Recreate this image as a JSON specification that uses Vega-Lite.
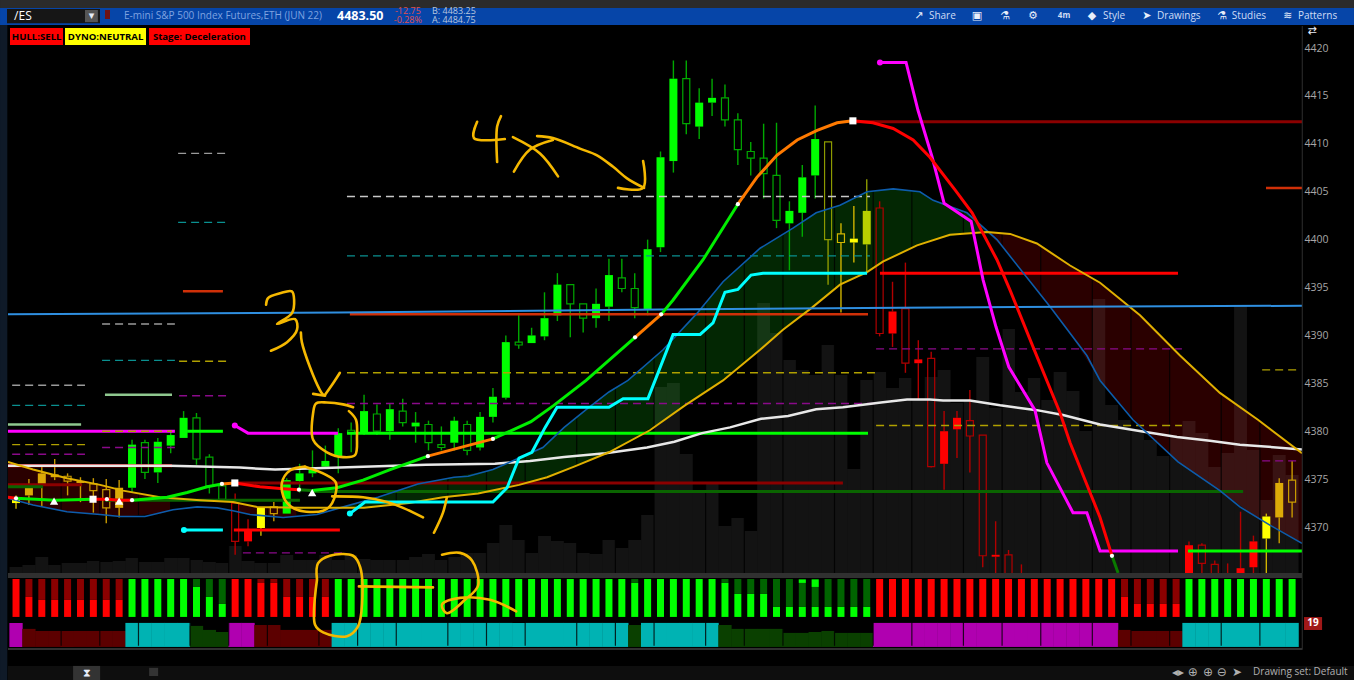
{"$schema":"https://vega.github.io/schema/vega-lite/v6.json","width":1294,"height":547,"autosize":{"type":"none"},"padding":{"left":8,"top":26,"right":52,"bottom":107},"background":"#000000","config":{"view":{"stroke":null},"font":"Open Sans","axis":{"grid":false}},
"datasets":{
"candles":[
{"t":276,"top":4372.9,"bot":4372.5,"hi":4373.3,"lo":4371.9,"tone":"pale","body":"filled"},
{"t":280,"top":4374.2,"bot":4373.3,"hi":4375.0,"lo":4372.3,"tone":"fade","body":"filled"},
{"t":284,"top":4375.6,"bot":4374.5,"hi":4376.3,"lo":4372.1,"tone":"fade","body":"filled"},
{"t":288,"top":4375.5,"bot":4375.2,"hi":4377.1,"lo":4374.9,"tone":"fade","body":"filled"},
{"t":292,"top":4375.3,"bot":4374.8,"hi":4375.6,"lo":4373.3,"tone":"fade","body":"hollow"},
{"t":296,"top":4374.8,"bot":4374.6,"hi":4375.2,"lo":4372.6,"tone":"fade","body":"filled"},
{"t":300,"top":4374.5,"bot":4373.8,"hi":4375.1,"lo":4371.5,"tone":"fade","body":"hollow"},
{"t":304,"top":4373.9,"bot":4372.0,"hi":4375.0,"lo":4370.4,"tone":"fade","body":"hollow"},
{"t":308,"top":4374.1,"bot":4372.0,"hi":4374.9,"lo":4371.0,"tone":"fade","body":"filled"},
{"t":312,"top":4378.6,"bot":4374.1,"hi":4379.1,"lo":4373.6,"tone":"up","body":"filled"},
{"t":316,"top":4378.8,"bot":4375.7,"hi":4379.1,"lo":4375.0,"tone":"up","body":"hollow"},
{"t":320,"top":4378.9,"bot":4375.7,"hi":4379.3,"lo":4374.6,"tone":"up","body":"filled"},
{"t":324,"top":4379.6,"bot":4378.5,"hi":4380.1,"lo":4377.7,"tone":"up","body":"filled"},
{"t":328,"top":4381.4,"bot":4379.3,"hi":4382.1,"lo":4379.3,"tone":"up","body":"filled"},
{"t":332,"top":4381.4,"bot":4377.1,"hi":4381.9,"lo":4376.5,"tone":"up","body":"hollow"},
{"t":336,"top":4377.3,"bot":4374.3,"hi":4377.6,"lo":4373.5,"tone":"up","body":"hollow"},
{"t":340,"top":4374.3,"bot":4372.9,"hi":4374.5,"lo":4372.8,"tone":"up","body":"hollow"},
{"t":344,"top":4372.5,"bot":4368.5,"hi":4373.5,"lo":4367.1,"tone":"down","body":"hollow"},
{"t":348,"top":4369.7,"bot":4368.5,"hi":4370.8,"lo":4368.0,"tone":"down","body":"filled"},
{"t":352,"top":4372.1,"bot":4369.9,"hi":4372.1,"lo":4369.1,"tone":"pale","body":"filled"},
{"t":356,"top":4372.1,"bot":4371.4,"hi":4372.6,"lo":4370.6,"tone":"fade","body":"hollow"},
{"t":360,"top":4374.9,"bot":4371.4,"hi":4375.1,"lo":4371.4,"tone":"up","body":"filled"},
{"t":364,"top":4375.6,"bot":4374.8,"hi":4376.6,"lo":4373.6,"tone":"up","body":"filled"},
{"t":368,"top":4376.0,"bot":4375.6,"hi":4378.0,"lo":4375.2,"tone":"up","body":"filled"},
{"t":372,"top":4376.9,"bot":4376.3,"hi":4378.5,"lo":4376.2,"tone":"up","body":"filled"},
{"t":376,"top":4379.8,"bot":4377.3,"hi":4380.3,"lo":4375.6,"tone":"up","body":"filled"},
{"t":380,"top":4380.1,"bot":4379.8,"hi":4380.9,"lo":4377.8,"tone":"up","body":"hollow"},
{"t":384,"top":4382.1,"bot":4379.8,"hi":4383.8,"lo":4379.6,"tone":"up","body":"filled"},
{"t":388,"top":4381.8,"bot":4380.0,"hi":4382.8,"lo":4379.6,"tone":"up","body":"hollow"},
{"t":392,"top":4382.3,"bot":4380.0,"hi":4382.9,"lo":4379.1,"tone":"up","body":"filled"},
{"t":396,"top":4382.1,"bot":4380.9,"hi":4383.4,"lo":4380.5,"tone":"up","body":"hollow"},
{"t":400,"top":4380.9,"bot":4380.5,"hi":4382.0,"lo":4378.8,"tone":"up","body":"filled"},
{"t":404,"top":4380.7,"bot":4378.8,"hi":4381.1,"lo":4378.0,"tone":"up","body":"hollow"},
{"t":408,"top":4378.6,"bot":4378.3,"hi":4380.5,"lo":4378.0,"tone":"up","body":"hollow"},
{"t":412,"top":4381.1,"bot":4378.8,"hi":4381.5,"lo":4378.0,"tone":"up","body":"filled"},
{"t":416,"top":4380.7,"bot":4378.0,"hi":4381.1,"lo":4377.5,"tone":"up","body":"hollow"},
{"t":420,"top":4381.5,"bot":4378.3,"hi":4382.0,"lo":4378.0,"tone":"up","body":"filled"},
{"t":424,"top":4383.6,"bot":4381.5,"hi":4384.5,"lo":4380.9,"tone":"up","body":"filled"},
{"t":428,"top":4389.3,"bot":4383.5,"hi":4390.0,"lo":4383.3,"tone":"up","body":"filled"},
{"t":432,"top":4389.3,"bot":4389.0,"hi":4392.1,"lo":4388.6,"tone":"up","body":"hollow"},
{"t":436,"top":4390.0,"bot":4389.2,"hi":4390.8,"lo":4389.2,"tone":"up","body":"filled"},
{"t":440,"top":4391.8,"bot":4389.9,"hi":4394.5,"lo":4389.5,"tone":"up","body":"filled"},
{"t":444,"top":4395.3,"bot":4392.1,"hi":4396.5,"lo":4391.5,"tone":"up","body":"filled"},
{"t":448,"top":4395.3,"bot":4393.3,"hi":4395.3,"lo":4389.8,"tone":"up","body":"hollow"},
{"t":452,"top":4393.3,"bot":4391.8,"hi":4393.3,"lo":4390.3,"tone":"up","body":"hollow"},
{"t":456,"top":4393.3,"bot":4391.8,"hi":4394.9,"lo":4390.8,"tone":"up","body":"filled"},
{"t":460,"top":4396.3,"bot":4393.0,"hi":4398.0,"lo":4391.5,"tone":"up","body":"filled"},
{"t":464,"top":4396.0,"bot":4394.9,"hi":4398.0,"lo":4394.5,"tone":"up","body":"hollow"},
{"t":468,"top":4394.9,"bot":4392.9,"hi":4396.5,"lo":4391.8,"tone":"up","body":"hollow"},
{"t":472,"top":4399.0,"bot":4392.7,"hi":4400.0,"lo":4392.1,"tone":"up","body":"filled"},
{"t":476,"top":4408.6,"bot":4399.2,"hi":4409.2,"lo":4398.7,"tone":"up","body":"filled"},
{"t":480,"top":4416.8,"bot":4408.2,"hi":4418.7,"lo":4407.0,"tone":"up","body":"filled"},
{"t":484,"top":4416.8,"bot":4412.1,"hi":4418.7,"lo":4411.0,"tone":"up","body":"hollow"},
{"t":488,"top":4414.3,"bot":4411.8,"hi":4415.8,"lo":4410.5,"tone":"up","body":"filled"},
{"t":492,"top":4414.8,"bot":4414.3,"hi":4416.8,"lo":4412.9,"tone":"up","body":"filled"},
{"t":496,"top":4414.8,"bot":4412.5,"hi":4416.2,"lo":4411.8,"tone":"up","body":"hollow"},
{"t":500,"top":4412.5,"bot":4409.4,"hi":4413.2,"lo":4407.8,"tone":"up","body":"hollow"},
{"t":504,"top":4409.2,"bot":4408.5,"hi":4410.2,"lo":4406.7,"tone":"up","body":"hollow"},
{"t":508,"top":4408.5,"bot":4406.9,"hi":4412.1,"lo":4404.3,"tone":"up","body":"hollow"},
{"t":512,"top":4406.7,"bot":4402.0,"hi":4412.2,"lo":4401.2,"tone":"up","body":"hollow"},
{"t":516,"top":4403.0,"bot":4401.7,"hi":4404.0,"lo":4396.8,"tone":"up","body":"filled"},
{"t":520,"top":4406.5,"bot":4402.8,"hi":4407.8,"lo":4400.3,"tone":"up","body":"filled"},
{"t":524,"top":4410.5,"bot":4406.7,"hi":4414.0,"lo":4404.3,"tone":"up","body":"filled"},
{"t":528,"top":4410.2,"bot":4400.0,"hi":4410.2,"lo":4395.3,"tone":"olive","body":"hollow"},
{"t":532,"top":4400.6,"bot":4399.7,"hi":4401.7,"lo":4392.4,"tone":"pale","body":"hollow"},
{"t":536,"top":4400.1,"bot":4399.7,"hi":4403.5,"lo":4397.6,"tone":"pale","body":"filled"},
{"t":540,"top":4403.0,"bot":4399.5,"hi":4406.3,"lo":4396.5,"tone":"olive","body":"filled"},
{"t":544,"top":4403.3,"bot":4390.2,"hi":4404.0,"lo":4389.9,"tone":"down","body":"hollow"},
{"t":548,"top":4392.5,"bot":4390.2,"hi":4395.6,"lo":4388.8,"tone":"down","body":"filled"},
{"t":552,"top":4392.8,"bot":4387.1,"hi":4397.6,"lo":4386.1,"tone":"down","body":"hollow"},
{"t":556,"top":4387.5,"bot":4387.1,"hi":4389.5,"lo":4383.3,"tone":"down","body":"filled"},
{"t":560,"top":4387.6,"bot":4376.3,"hi":4388.3,"lo":4376.2,"tone":"down","body":"hollow"},
{"t":564,"top":4380.0,"bot":4376.6,"hi":4382.1,"lo":4373.9,"tone":"down","body":"filled"},
{"t":568,"top":4381.4,"bot":4380.2,"hi":4382.1,"lo":4377.2,"tone":"down","body":"filled"},
{"t":572,"top":4381.1,"bot":4379.5,"hi":4384.3,"lo":4375.7,"tone":"down","body":"hollow"},
{"t":576,"top":4379.6,"bot":4367.0,"hi":4379.6,"lo":4365.8,"tone":"down","body":"hollow"},
{"t":580,"top":4367.1,"bot":4366.9,"hi":4370.6,"lo":4362.4,"tone":"down","body":"filled"},
{"t":584,"top":4367.1,"bot":4363.4,"hi":4367.6,"lo":4362.9,"tone":"down","body":"hollow"},
{"t":588,"top":4365.0,"bot":4363.4,"hi":4366.1,"lo":4362.4,"tone":"down","body":"hollow"},
{"t":640,"top":4368.1,"bot":4363.4,"hi":4368.5,"lo":4362.4,"tone":"down","body":"filled"},
{"t":644,"top":4368.1,"bot":4366.2,"hi":4368.3,"lo":4364.5,"tone":"down","body":"hollow"},
{"t":648,"top":4366.1,"bot":4363.4,"hi":4366.5,"lo":4362.4,"tone":"down","body":"hollow"},
{"t":652,"top":4364.7,"bot":4363.4,"hi":4366.2,"lo":4362.4,"tone":"down","body":"hollow"},
{"t":656,"top":4365.7,"bot":4363.9,"hi":4371.6,"lo":4362.4,"tone":"down","body":"filled"},
{"t":660,"top":4368.5,"bot":4365.8,"hi":4369.1,"lo":4364.5,"tone":"down","body":"filled"},
{"t":664,"top":4371.1,"bot":4368.8,"hi":4371.4,"lo":4364.5,"tone":"pale","body":"filled"},
{"t":668,"top":4374.6,"bot":4371.0,"hi":4375.1,"lo":4368.3,"tone":"fade","body":"filled"},
{"t":672,"top":4374.9,"bot":4372.6,"hi":4376.9,"lo":4371.0,"tone":"fade","body":"hollow"}
],
"volume":[
{"t":276,"v":600},{"t":280,"v":800},{"t":284,"v":1600},{"t":288,"v":800},{"t":292,"v":1000},{"t":296,"v":1000},{"t":300,"v":1200},{"t":304,"v":1100},{"t":308,"v":1200},{"t":312,"v":1500},
{"t":316,"v":1100},{"t":320,"v":1100},{"t":324,"v":1500},{"t":328,"v":1500},{"t":332,"v":1300},{"t":336,"v":1100},{"t":340,"v":1000},{"t":344,"v":2700},{"t":348,"v":1200},{"t":352,"v":1000},
{"t":356,"v":1000},{"t":360,"v":1800},{"t":364,"v":1300},{"t":368,"v":1300},{"t":372,"v":1800},{"t":376,"v":1300},{"t":380,"v":1800},{"t":384,"v":1400},{"t":388,"v":1300},{"t":392,"v":1300},
{"t":396,"v":1300},{"t":400,"v":1600},{"t":404,"v":1900},{"t":408,"v":1300},{"t":412,"v":1600},{"t":416,"v":2000},{"t":420,"v":2000},{"t":424,"v":3000},{"t":428,"v":4800},{"t":432,"v":3300},
{"t":436,"v":2000},{"t":440,"v":3700},{"t":444,"v":3200},{"t":448,"v":3000},{"t":452,"v":2000},{"t":456,"v":1900},{"t":460,"v":3300},{"t":464,"v":2500},{"t":468,"v":3300},{"t":472,"v":5800},
{"t":476,"v":18600},{"t":480,"v":19000},{"t":484,"v":11900},{"t":488,"v":8300},{"t":492,"v":9100},{"t":496,"v":4700},{"t":500,"v":5500},{"t":504,"v":4200},{"t":508,"v":27000},{"t":512,"v":24000},
{"t":516,"v":21300},{"t":520,"v":20300},{"t":524,"v":19800},{"t":528,"v":22800},{"t":532,"v":19800},{"t":536,"v":10400},{"t":540,"v":19300},{"t":544,"v":20100},{"t":548,"v":18500},{"t":552,"v":19500},
{"t":556,"v":17300},{"t":560,"v":19600},{"t":564,"v":20300},{"t":568,"v":17000},{"t":572,"v":17300},{"t":576,"v":21600},{"t":580,"v":16500},{"t":584,"v":24400},{"t":588,"v":18100},{"t":592,"v":19500},
{"t":596,"v":17300},{"t":600,"v":20100},{"t":604,"v":18200},{"t":608,"v":14200},{"t":612,"v":27400},{"t":616,"v":16800},{"t":620,"v":15300},{"t":624,"v":14300},{"t":628,"v":13300},{"t":632,"v":11700},
{"t":636,"v":13700},{"t":640,"v":15200},{"t":644,"v":14000},{"t":648,"v":10600},{"t":652,"v":12000},{"t":656,"v":26800},{"t":660,"v":12300},{"t":664,"v":7300},{"t":668,"v":11800},{"t":672,"v":9800}
],
"osc":[
{"t":276,"split":59.1,"trend":"down"},{"t":280,"split":43.5,"trend":"down"},{"t":284,"split":40.9,"trend":"down"},{"t":288,"split":40.9,"trend":"down"},{"t":292,"split":40.9,"trend":"down"},{"t":296,"split":40.9,"trend":"down"},{"t":300,"split":40.9,"trend":"down"},{"t":304,"split":40.9,"trend":"down"},{"t":308,"split":40.9,"trend":"down"},
{"t":312,"split":59.1,"trend":"up"},{"t":316,"split":59.1,"trend":"up"},{"t":320,"split":59.1,"trend":"up"},{"t":324,"split":59.1,"trend":"up"},{"t":328,"split":59.1,"trend":"up"},{"t":332,"split":52.2,"trend":"up"},{"t":336,"split":43.5,"trend":"up"},{"t":340,"split":37.4,"trend":"up"},
{"t":344,"split":59.1,"trend":"down"},{"t":348,"split":59.1,"trend":"down"},{"t":352,"split":55.7,"trend":"down"},{"t":356,"split":55.7,"trend":"down"},{"t":360,"split":43.5,"trend":"down"},{"t":364,"split":43.5,"trend":"down"},{"t":368,"split":43.5,"trend":"down"},{"t":372,"split":43.5,"trend":"down"},
{"t":376,"split":59.1,"trend":"up"},{"t":380,"split":59.1,"trend":"up"},{"t":384,"split":59.1,"trend":"up"},{"t":388,"split":59.1,"trend":"up"},{"t":392,"split":59.1,"trend":"up"},{"t":396,"split":59.1,"trend":"up"},{"t":400,"split":59.1,"trend":"up"},{"t":404,"split":59.1,"trend":"up"},{"t":408,"split":59.1,"trend":"up"},{"t":412,"split":59.1,"trend":"up"},{"t":416,"split":59.1,"trend":"up"},{"t":420,"split":59.1,"trend":"up"},{"t":424,"split":59.1,"trend":"up"},{"t":428,"split":59.1,"trend":"up"},{"t":432,"split":59.1,"trend":"up"},{"t":436,"split":59.1,"trend":"up"},{"t":440,"split":59.1,"trend":"up"},{"t":444,"split":59.1,"trend":"up"},{"t":448,"split":59.1,"trend":"up"},{"t":452,"split":59.1,"trend":"up"},{"t":456,"split":59.1,"trend":"up"},{"t":460,"split":59.1,"trend":"up"},{"t":464,"split":59.1,"trend":"up"},
{"t":468,"split":55.7,"trend":"up"},{"t":472,"split":59.1,"trend":"up"},{"t":476,"split":59.1,"trend":"up"},{"t":480,"split":59.1,"trend":"up"},{"t":484,"split":59.1,"trend":"up"},{"t":488,"split":59.1,"trend":"up"},{"t":492,"split":59.1,"trend":"up"},{"t":496,"split":55.7,"trend":"up"},{"t":500,"split":46.1,"trend":"up"},{"t":504,"split":46.1,"trend":"up"},{"t":508,"split":46.1,"trend":"up"},{"t":512,"split":34.8,"trend":"up"},{"t":516,"split":34.8,"trend":"up"},{"t":520,"split":34.8,"trend":"up"},{"t":524,"split":34.8,"trend":"up"},{"t":528,"split":34.8,"trend":"up"},{"t":532,"split":34.8,"trend":"up"},{"t":536,"split":34.8,"trend":"up"},{"t":540,"split":34.8,"trend":"up"},
{"t":544,"split":59.1,"trend":"down"},{"t":548,"split":59.1,"trend":"down"},{"t":552,"split":59.1,"trend":"down"},{"t":556,"split":59.1,"trend":"down"},{"t":560,"split":59.1,"trend":"down"},{"t":564,"split":59.1,"trend":"down"},{"t":568,"split":59.1,"trend":"down"},{"t":572,"split":59.1,"trend":"down"},{"t":576,"split":59.1,"trend":"down"},{"t":580,"split":59.1,"trend":"down"},{"t":584,"split":59.1,"trend":"down"},{"t":588,"split":59.1,"trend":"down"},{"t":592,"split":59.1,"trend":"down"},{"t":596,"split":59.1,"trend":"down"},{"t":600,"split":59.1,"trend":"down"},{"t":604,"split":59.1,"trend":"down"},{"t":608,"split":59.1,"trend":"down"},{"t":612,"split":59.1,"trend":"down"},{"t":616,"split":59.1,"trend":"down"},
{"t":620,"split":43.5,"trend":"down"},{"t":624,"split":37.4,"trend":"down"},{"t":628,"split":37.4,"trend":"down"},{"t":632,"split":37.4,"trend":"down"},{"t":636,"split":37.4,"trend":"down"},
{"t":640,"split":59.1,"trend":"up"},{"t":644,"split":59.1,"trend":"up"},{"t":648,"split":59.1,"trend":"up"},{"t":652,"split":59.1,"trend":"up"},{"t":656,"split":59.1,"trend":"up"},{"t":660,"split":59.1,"trend":"up"},{"t":664,"split":59.1,"trend":"up"},{"t":668,"split":59.1,"trend":"up"},{"t":672,"split":59.1,"trend":"up"}
],
"tips":[{"t":520,"a":55.7,"b":58.6},{"t":524,"a":52.2,"b":58.6}],
"blocks":[
{"t":276,"lvl":20.9,"state":"bear"},{"t":280,"lvl":15.7,"state":"fadeDown"},{"t":284,"lvl":13.9,"state":"fadeDown"},{"t":288,"lvl":13.9,"state":"fadeDown"},{"t":292,"lvl":13.9,"state":"fadeDown"},{"t":296,"lvl":13.9,"state":"fadeDown"},{"t":300,"lvl":13.9,"state":"fadeDown"},{"t":304,"lvl":13.9,"state":"fadeDown"},{"t":308,"lvl":13.9,"state":"fadeDown"},
{"t":312,"lvl":20.9,"state":"bull"},{"t":316,"lvl":20.9,"state":"bull"},{"t":320,"lvl":20.9,"state":"bull"},{"t":324,"lvl":20.9,"state":"bull"},{"t":328,"lvl":20.9,"state":"bull"},{"t":332,"lvl":18.3,"state":"fadeUp"},{"t":336,"lvl":14.8,"state":"fadeUp"},{"t":340,"lvl":13,"state":"fadeUp"},
{"t":344,"lvl":20.9,"state":"bear"},{"t":348,"lvl":20.9,"state":"bear"},{"t":352,"lvl":19.1,"state":"fadeDown"},{"t":356,"lvl":19.1,"state":"fadeDown"},{"t":360,"lvl":14.8,"state":"fadeDown"},{"t":364,"lvl":14.8,"state":"fadeDown"},{"t":368,"lvl":14.8,"state":"fadeDown"},{"t":372,"lvl":14.8,"state":"fadeDown"},
{"t":376,"lvl":20.9,"state":"bull"},{"t":380,"lvl":20.9,"state":"bull"},{"t":384,"lvl":20.9,"state":"bull"},{"t":388,"lvl":20.9,"state":"bull"},{"t":392,"lvl":20.9,"state":"bull"},{"t":396,"lvl":20.9,"state":"bull"},{"t":400,"lvl":20.9,"state":"bull"},{"t":404,"lvl":20.9,"state":"bull"},{"t":408,"lvl":20.9,"state":"bull"},{"t":412,"lvl":20.9,"state":"bull"},{"t":416,"lvl":20.9,"state":"bull"},{"t":420,"lvl":20.9,"state":"bull"},{"t":424,"lvl":20.9,"state":"bull"},{"t":428,"lvl":20.9,"state":"bull"},{"t":432,"lvl":20.9,"state":"bull"},{"t":436,"lvl":20.9,"state":"bull"},{"t":440,"lvl":20.9,"state":"bull"},{"t":444,"lvl":20.9,"state":"bull"},{"t":448,"lvl":20.9,"state":"bull"},{"t":452,"lvl":20.9,"state":"bull"},{"t":456,"lvl":20.9,"state":"bull"},{"t":460,"lvl":20.9,"state":"bull"},{"t":464,"lvl":20.9,"state":"bull"},
{"t":468,"lvl":19.1,"state":"fadeUp"},{"t":472,"lvl":20.9,"state":"bull"},{"t":476,"lvl":20.9,"state":"bull"},{"t":480,"lvl":20.9,"state":"bull"},{"t":484,"lvl":20.9,"state":"bull"},{"t":488,"lvl":20.9,"state":"bull"},{"t":492,"lvl":20.9,"state":"bull"},
{"t":496,"lvl":19.1,"state":"fadeUp"},{"t":500,"lvl":15.7,"state":"fadeUp"},{"t":504,"lvl":15.7,"state":"fadeUp"},{"t":508,"lvl":15.7,"state":"fadeUp"},{"t":512,"lvl":15.7,"state":"fadeUp"},{"t":516,"lvl":12.2,"state":"fadeUp"},{"t":520,"lvl":12.2,"state":"fadeUp"},{"t":524,"lvl":13,"state":"fadeUp"},{"t":528,"lvl":13.9,"state":"fadeUp"},{"t":532,"lvl":12.2,"state":"fadeUp"},{"t":536,"lvl":12.2,"state":"fadeUp"},{"t":540,"lvl":12.2,"state":"fadeUp"},
{"t":544,"lvl":20.9,"state":"bear"},{"t":548,"lvl":20.9,"state":"bear"},{"t":552,"lvl":20.9,"state":"bear"},{"t":556,"lvl":20.9,"state":"bear"},{"t":560,"lvl":20.9,"state":"bear"},{"t":564,"lvl":20.9,"state":"bear"},{"t":568,"lvl":20.9,"state":"bear"},{"t":572,"lvl":20.9,"state":"bear"},{"t":576,"lvl":20.9,"state":"bear"},{"t":580,"lvl":20.9,"state":"bear"},{"t":584,"lvl":20.9,"state":"bear"},{"t":588,"lvl":20.9,"state":"bear"},{"t":592,"lvl":20.9,"state":"bear"},{"t":596,"lvl":20.9,"state":"bear"},{"t":600,"lvl":20.9,"state":"bear"},{"t":604,"lvl":20.9,"state":"bear"},{"t":608,"lvl":20.9,"state":"bear"},{"t":612,"lvl":20.9,"state":"bear"},{"t":616,"lvl":20.9,"state":"bear"},
{"t":620,"lvl":14.8,"state":"fadeDown"},{"t":624,"lvl":13.9,"state":"fadeDown"},{"t":628,"lvl":13.9,"state":"fadeDown"},{"t":632,"lvl":13.9,"state":"fadeDown"},{"t":636,"lvl":13.9,"state":"fadeDown"},
{"t":640,"lvl":20.9,"state":"bull"},{"t":644,"lvl":20.9,"state":"bull"},{"t":648,"lvl":20.9,"state":"bull"},{"t":652,"lvl":20.9,"state":"bull"},{"t":656,"lvl":20.9,"state":"bull"},{"t":660,"lvl":20.9,"state":"bull"},{"t":664,"lvl":20.9,"state":"bull"},{"t":668,"lvl":20.9,"state":"bull"},{"t":672,"lvl":20.9,"state":"bull"}
],
"breaks":[{"t":290},{"t":302},{"t":314},{"t":330},{"t":342},{"t":354},{"t":370},{"t":382},{"t":394},{"t":410},{"t":422},{"t":434},{"t":450},{"t":462},{"t":474},{"t":490},{"t":502},{"t":514},{"t":530},{"t":542},{"t":554},{"t":570},{"t":582},{"t":594},{"t":610},{"t":622},{"t":634},{"t":650},{"t":662}],
"cloud":[
{"seg":"a","phase":"bear","t":273.5,"upper":4376.8,"lower":4373.0},{"seg":"a","phase":"bear","t":281.3,"upper":4376.0,"lower":4372.3},{"seg":"a","phase":"bear","t":291.8,"upper":4375.1,"lower":4371.6},{"seg":"a","phase":"bear","t":302.1,"upper":4374.4,"lower":4371.3},{"seg":"a","phase":"bear","t":309.2,"upper":4373.8,"lower":4371.1},{"seg":"a","phase":"bear","t":320.7,"upper":4373.1,"lower":4371.4},{"seg":"a","phase":"bear","t":323.8,"upper":4373.0,"lower":4371.7},
{"seg":"b","phase":"bear","t":345,"upper":4372.5,"lower":4371.6},{"seg":"b","phase":"bear","t":350.8,"upper":4372.1,"lower":4371.2},{"seg":"b","phase":"bear","t":358.9,"upper":4372.0,"lower":4371.0},{"seg":"b","phase":"bear","t":363,"upper":4372.0,"lower":4371.2},
{"seg":"c","phase":"bull","t":378.1,"upper":4372.2,"lower":4372.0},{"seg":"c","phase":"bull","t":388.3,"upper":4373.1,"lower":4372.1},{"seg":"c","phase":"bull","t":400.7,"upper":4374.5,"lower":4372.7},{"seg":"c","phase":"bull","t":411.9,"upper":4375.2,"lower":4373.2},{"seg":"c","phase":"bull","t":424,"upper":4376.0,"lower":4373.9},{"seg":"c","phase":"bull","t":432.1,"upper":4377.2,"lower":4374.4},{"seg":"c","phase":"bull","t":439.5,"upper":4378.3,"lower":4375.1},{"seg":"c","phase":"bull","t":446.1,"upper":4380.4,"lower":4375.9},{"seg":"c","phase":"bull","t":453.5,"upper":4382.4,"lower":4377.0},{"seg":"c","phase":"bull","t":460,"upper":4384.1,"lower":4377.8},{"seg":"c","phase":"bull","t":465.9,"upper":4385.3,"lower":4378.9},{"seg":"c","phase":"bull","t":476.8,"upper":4388.5,"lower":4381.1},{"seg":"c","phase":"bull","t":487.3,"upper":4392.3,"lower":4383.6},{"seg":"c","phase":"bull","t":495.4,"upper":4395.6,"lower":4385.3},{"seg":"c","phase":"bull","t":506.9,"upper":4399.1,"lower":4388.5},{"seg":"c","phase":"bull","t":517.1,"upper":4401.2,"lower":4391.4},{"seg":"c","phase":"bull","t":524.3,"upper":4402.8,"lower":4393.3},{"seg":"c","phase":"bull","t":531.7,"upper":4403.6,"lower":4395.3},{"seg":"c","phase":"bull","t":540.1,"upper":4405.0,"lower":4396.6},{"seg":"c","phase":"bull","t":548.2,"upper":4405.3,"lower":4398.2},{"seg":"c","phase":"bull","t":556.5,"upper":4405.0,"lower":4399.5},{"seg":"c","phase":"bull","t":560.6,"upper":4404.1,"lower":4400.0},{"seg":"c","phase":"bull","t":571.1,"upper":4402.8,"lower":4400.7},{"seg":"c","phase":"bull","t":577.3,"upper":4400.8,"lower":4400.8},
{"seg":"d","phase":"bear","t":577.3,"upper":4400.8,"lower":4400.8},{"seg":"d","phase":"bear","t":584.5,"upper":4400.6,"lower":4398.4},{"seg":"d","phase":"bear","t":592.8,"upper":4399.6,"lower":4394.7},{"seg":"d","phase":"bear","t":603.1,"upper":4397.3,"lower":4390.2},{"seg":"d","phase":"bear","t":612.4,"upper":4395.5,"lower":4385.3},{"seg":"d","phase":"bear","t":624.8,"upper":4392.1,"lower":4380.5},{"seg":"d","phase":"bear","t":637.2,"upper":4387.9,"lower":4376.7},{"seg":"d","phase":"bear","t":649.6,"upper":4384.0,"lower":4373.8},{"seg":"d","phase":"bear","t":661.4,"upper":4381.2,"lower":4370.9},{"seg":"d","phase":"bear","t":675.07,"upper":4377.7,"lower":4368.3}
],
"levels":[
{"t":326.3,"t2":341.8,"p":4409.0,"style":"gray"},{"t":326.3,"t2":341.8,"p":4401.8,"style":"teal"},{"t":327.8,"t2":340.2,"p":4394.6,"style":"ember"},{"t":302.7,"t2":325.3,"p":4391.2,"style":"gray"},{"t":302.7,"t2":325.3,"p":4387.4,"style":"teal"},{"t":303.6,"t2":324.4,"p":4383.8,"style":"sage"},{"t":326.6,"t2":341.8,"p":4383.7,"style":"purple"},{"t":326.6,"t2":341.8,"p":4387.3,"style":"gold"},
{"t":274.8,"t2":297.4,"p":4384.8,"style":"gray"},{"t":274.8,"t2":297.4,"p":4382.7,"style":"teal"},{"t":273.5,"t2":296.2,"p":4380.7,"style":"sage"},{"t":274.8,"t2":297.4,"p":4378.6,"style":"gold"},{"t":274.8,"t2":297.4,"p":4377.6,"style":"purple"},
{"t":273.5,"t2":325.3,"p":4380.0,"style":"magenta"},{"t":302.7,"t2":324.4,"p":4380.0,"style":"gold"},{"t":302.7,"t2":325.3,"p":4378.3,"style":"purple"},{"t":273.5,"t2":324.4,"p":4376.4,"style":"red"},{"t":273.5,"t2":296.5,"p":4374.4,"style":"maroon"},{"t":273.5,"t2":284.4,"p":4374.2,"style":"forest"},{"t":303.6,"t2":364.1,"p":4372.8,"style":"forest"},{"t":329.1,"t2":340.2,"p":4380.0,"style":"lime"},{"t":343.6,"t2":376.5,"p":4369.7,"style":"red"},{"t":346.4,"t2":377.5,"p":4367.3,"style":"purple"},
{"t":343.9,"t2":532.6,"p":4374.6,"style":"maroon"},{"t":367.2,"t2":656.8,"p":4373.7,"style":"forest"},{"t":378.7,"t2":540.4,"p":4379.8,"style":"lime"},{"t":378.7,"t2":544.1,"p":4382.9,"style":"purple"},{"t":378.7,"t2":542.6,"p":4386.1,"style":"gold"},{"t":378.7,"t2":541,"p":4398.3,"style":"teal"},{"t":378.7,"t2":541,"p":4404.5,"style":"white"},{"t":379.6,"t2":540.4,"p":4392.2,"style":"ember"},
{"t":544.1,"t2":636.6,"p":4396.5,"style":"red"},{"t":542.9,"t2":637.8,"p":4388.6,"style":"purple"},{"t":542.9,"t2":637.8,"p":4380.6,"style":"gold"},{"t":535.7,"t2":675.07,"p":4412.3,"style":"maroon"},{"t":663.9,"t2":675.07,"p":4405.4,"style":"ember"},{"t":662.7,"t2":674.4,"p":4386.4,"style":"gold"},{"t":662.7,"t2":673.5,"p":4376.9,"style":"purple"},{"t":639.7,"t2":675.07,"p":4367.5,"style":"lime"}
],
"lines":[
{"seg":"ma","series":"average","t":273.5,"p":4376.4},{"seg":"ma","series":"average","t":323.8,"p":4376.4},{"seg":"ma","series":"average","t":345.5,"p":4376.2},{"seg":"ma","series":"average","t":356.4,"p":4376.0},{"seg":"ma","series":"average","t":376.5,"p":4376.2},{"seg":"ma","series":"average","t":403.2,"p":4376.5},{"seg":"ma","series":"average","t":424.6,"p":4376.6},{"seg":"ma","series":"average","t":435.5,"p":4376.9},{"seg":"ma","series":"average","t":446.1,"p":4377.3},{"seg":"ma","series":"average","t":458.9,"p":4377.7},{"seg":"ma","series":"average","t":471.8,"p":4378.3},{"seg":"ma","series":"average","t":480.3,"p":4378.9},{"seg":"ma","series":"average","t":488.9,"p":4379.8},{"seg":"ma","series":"average","t":497.6,"p":4380.4},{"seg":"ma","series":"average","t":507.2,"p":4381.3},{"seg":"ma","series":"average","t":515.6,"p":4381.6},{"seg":"ma","series":"average","t":524.3,"p":4382.3},{"seg":"ma","series":"average","t":532.6,"p":4382.5},{"seg":"ma","series":"average","t":544.4,"p":4383.0},{"seg":"ma","series":"average","t":552.5,"p":4383.3},{"seg":"ma","series":"average","t":559.6,"p":4383.3},{"seg":"ma","series":"average","t":563.7,"p":4383.2},{"seg":"ma","series":"average","t":572,"p":4383.2},{"seg":"ma","series":"average","t":581.4,"p":4382.7},{"seg":"ma","series":"average","t":592.8,"p":4382.2},{"seg":"ma","series":"average","t":600.9,"p":4381.7},{"seg":"ma","series":"average","t":612.4,"p":4380.7},{"seg":"ma","series":"average","t":627,"p":4379.9},{"seg":"ma","series":"average","t":636.3,"p":4379.4},{"seg":"ma","series":"average","t":646.5,"p":4379.0},{"seg":"ma","series":"average","t":655.8,"p":4378.6},{"seg":"ma","series":"average","t":675.07,"p":4378.1},
{"seg":"cu","series":"cloudBlue","t":273.5,"p":4373.0},{"seg":"cu","series":"cloudBlue","t":281.3,"p":4372.3},{"seg":"cu","series":"cloudBlue","t":291.8,"p":4371.6},{"seg":"cu","series":"cloudBlue","t":302.1,"p":4371.3},{"seg":"cu","series":"cloudBlue","t":308.3,"p":4371.1},{"seg":"cu","series":"cloudBlue","t":316,"p":4371.1},{"seg":"cu","series":"cloudBlue","t":324.7,"p":4371.8},{"seg":"cu","series":"cloudBlue","t":332.2,"p":4372.1},{"seg":"cu","series":"cloudBlue","t":338.4,"p":4372.0},{"seg":"cu","series":"cloudBlue","t":343.3,"p":4371.7},{"seg":"cu","series":"cloudBlue","t":348.6,"p":4371.3},{"seg":"cu","series":"cloudBlue","t":358.9,"p":4371.0},{"seg":"cu","series":"cloudBlue","t":369.4,"p":4371.3},{"seg":"cu","series":"cloudBlue","t":376.5,"p":4372.0},{"seg":"cu","series":"cloudBlue","t":388.3,"p":4373.1},{"seg":"cu","series":"cloudBlue","t":400.7,"p":4374.5},{"seg":"cu","series":"cloudBlue","t":411.9,"p":4375.2},{"seg":"cu","series":"cloudBlue","t":416.3,"p":4375.3},{"seg":"cu","series":"cloudBlue","t":424,"p":4376.0},{"seg":"cu","series":"cloudBlue","t":432.1,"p":4377.2},{"seg":"cu","series":"cloudBlue","t":439.5,"p":4378.3},{"seg":"cu","series":"cloudBlue","t":446.1,"p":4380.4},{"seg":"cu","series":"cloudBlue","t":453.5,"p":4382.4},{"seg":"cu","series":"cloudBlue","t":460,"p":4384.1},{"seg":"cu","series":"cloudBlue","t":465.9,"p":4385.3},{"seg":"cu","series":"cloudBlue","t":476.8,"p":4388.5},{"seg":"cu","series":"cloudBlue","t":487.3,"p":4392.3},{"seg":"cu","series":"cloudBlue","t":495.4,"p":4395.6},{"seg":"cu","series":"cloudBlue","t":506.9,"p":4399.1},{"seg":"cu","series":"cloudBlue","t":517.1,"p":4401.2},{"seg":"cu","series":"cloudBlue","t":524.3,"p":4402.8},{"seg":"cu","series":"cloudBlue","t":531.7,"p":4403.6},{"seg":"cu","series":"cloudBlue","t":540.1,"p":4405.0},{"seg":"cu","series":"cloudBlue","t":548.2,"p":4405.3},{"seg":"cu","series":"cloudBlue","t":556.5,"p":4405.0},{"seg":"cu","series":"cloudBlue","t":560.6,"p":4404.1},{"seg":"cu","series":"cloudBlue","t":571.1,"p":4402.8},{"seg":"cu","series":"cloudBlue","t":580.4,"p":4400.0},{"seg":"cu","series":"cloudBlue","t":596.9,"p":4393.0},{"seg":"cu","series":"cloudBlue","t":608.3,"p":4387.9},{"seg":"cu","series":"cloudBlue","t":612.4,"p":4385.3},{"seg":"cu","series":"cloudBlue","t":622.6,"p":4381.2},{"seg":"cu","series":"cloudBlue","t":636.6,"p":4376.8},{"seg":"cu","series":"cloudBlue","t":649.6,"p":4373.8},{"seg":"cu","series":"cloudBlue","t":655.8,"p":4372.1},{"seg":"cu","series":"cloudBlue","t":665.1,"p":4370.2},{"seg":"cu","series":"cloudBlue","t":675.07,"p":4368.3},
{"seg":"cl","series":"cloudGold","t":273.5,"p":4376.8},{"seg":"cl","series":"cloudGold","t":281.3,"p":4376.0},{"seg":"cl","series":"cloudGold","t":291.8,"p":4375.1},{"seg":"cl","series":"cloudGold","t":302.1,"p":4374.4},{"seg":"cl","series":"cloudGold","t":309.2,"p":4373.8},{"seg":"cl","series":"cloudGold","t":320.7,"p":4373.1},{"seg":"cl","series":"cloudGold","t":333.1,"p":4372.8},{"seg":"cl","series":"cloudGold","t":343.3,"p":4372.6},{"seg":"cl","series":"cloudGold","t":350.8,"p":4372.1},{"seg":"cl","series":"cloudGold","t":364.1,"p":4372.0},{"seg":"cl","series":"cloudGold","t":384,"p":4372.0},{"seg":"cl","series":"cloudGold","t":398,"p":4372.5},{"seg":"cl","series":"cloudGold","t":408.5,"p":4373.1},{"seg":"cl","series":"cloudGold","t":419.4,"p":4373.5},{"seg":"cl","series":"cloudGold","t":432.1,"p":4374.4},{"seg":"cl","series":"cloudGold","t":440.8,"p":4375.2},{"seg":"cl","series":"cloudGold","t":449.2,"p":4376.3},{"seg":"cl","series":"cloudGold","t":460,"p":4377.8},{"seg":"cl","series":"cloudGold","t":472.7,"p":4380.1},{"seg":"cl","series":"cloudGold","t":483.6,"p":4382.7},{"seg":"cl","series":"cloudGold","t":495.4,"p":4385.3},{"seg":"cl","series":"cloudGold","t":506.9,"p":4388.5},{"seg":"cl","series":"cloudGold","t":514,"p":4390.6},{"seg":"cl","series":"cloudGold","t":523,"p":4392.9},{"seg":"cl","series":"cloudGold","t":531.7,"p":4395.3},{"seg":"cl","series":"cloudGold","t":540.1,"p":4396.6},{"seg":"cl","series":"cloudGold","t":545,"p":4397.7},{"seg":"cl","series":"cloudGold","t":555.6,"p":4399.4},{"seg":"cl","series":"cloudGold","t":565.8,"p":4400.5},{"seg":"cl","series":"cloudGold","t":577.3,"p":4400.8},{"seg":"cl","series":"cloudGold","t":584.5,"p":4400.6},{"seg":"cl","series":"cloudGold","t":592.8,"p":4399.6},{"seg":"cl","series":"cloudGold","t":603.1,"p":4397.3},{"seg":"cl","series":"cloudGold","t":612.4,"p":4395.5},{"seg":"cl","series":"cloudGold","t":624.8,"p":4392.1},{"seg":"cl","series":"cloudGold","t":637.2,"p":4387.9},{"seg":"cl","series":"cloudGold","t":649.6,"p":4384.0},{"seg":"cl","series":"cloudGold","t":661.4,"p":4381.2},{"seg":"cl","series":"cloudGold","t":675.07,"p":4377.7},
{"seg":"long","series":"longBlue","t":273.5,"p":4392.2},{"seg":"long","series":"longBlue","t":376.5,"p":4392.4},{"seg":"long","series":"longBlue","t":475.8,"p":4392.7},{"seg":"long","series":"longBlue","t":550.3,"p":4392.9},{"seg":"long","series":"longBlue","t":675.07,"p":4393.1},
{"seg":"m1","series":"trail","t":343.9,"p":4380.6},{"seg":"m1","series":"trail","t":348,"p":4379.8},{"seg":"m1","series":"trail","t":375.9,"p":4379.8},
{"seg":"m2","series":"trail","t":544.1,"p":4418.5},{"seg":"m2","series":"trail","t":552.2,"p":4418.5},{"seg":"m2","series":"trail","t":555.9,"p":4413.5},{"seg":"m2","series":"trail","t":560.3,"p":4408.6},{"seg":"m2","series":"trail","t":564,"p":4403.8},{"seg":"m2","series":"trail","t":572.4,"p":4401.9},{"seg":"m2","series":"trail","t":576.1,"p":4395.8},{"seg":"m2","series":"trail","t":580.1,"p":4390.9},{"seg":"m2","series":"trail","t":584.1,"p":4386.7},{"seg":"m2","series":"trail","t":592.2,"p":4382.2},{"seg":"m2","series":"trail","t":595.9,"p":4376.7},{"seg":"m2","series":"trail","t":604,"p":4371.5},{"seg":"m2","series":"trail","t":608.3,"p":4371.5},{"seg":"m2","series":"trail","t":612.4,"p":4367.5},{"seg":"m2","series":"trail","t":636.6,"p":4367.5},
{"seg":"c1","series":"stop","t":328.1,"p":4369.7},{"seg":"c1","series":"stop","t":340.2,"p":4369.7},
{"seg":"c2","series":"stop","t":379.6,"p":4371.4},{"seg":"c2","series":"stop","t":384.3,"p":4372.6},{"seg":"c2","series":"stop","t":424,"p":4372.6},{"seg":"c2","series":"stop","t":428.4,"p":4374.1},{"seg":"c2","series":"stop","t":432.1,"p":4377.2},{"seg":"c2","series":"stop","t":436.1,"p":4377.8},{"seg":"c2","series":"stop","t":440.2,"p":4380.4},{"seg":"c2","series":"stop","t":443.9,"p":4382.5},{"seg":"c2","series":"stop","t":460,"p":4382.5},{"seg":"c2","series":"stop","t":464.4,"p":4383.4},{"seg":"c2","series":"stop","t":472.1,"p":4383.4},{"seg":"c2","series":"stop","t":479.9,"p":4390.1},{"seg":"c2","series":"stop","t":488.3,"p":4390.1},{"seg":"c2","series":"stop","t":492.3,"p":4391.3},{"seg":"c2","series":"stop","t":496,"p":4394.5},{"seg":"c2","series":"stop","t":500,"p":4394.8},{"seg":"c2","series":"stop","t":504.1,"p":4396.3},{"seg":"c2","series":"stop","t":507.8,"p":4396.5},{"seg":"c2","series":"stop","t":540.1,"p":4396.5},
{"seg":"ha","series":"hullDown","t":273.5,"p":4373.1},{"seg":"ha","series":"hullDown","t":276,"p":4373.0},
{"seg":"hb","series":"hullUp","t":276,"p":4373.0},{"seg":"hb","series":"hullUp","t":288.1,"p":4372.8},{"seg":"hb","series":"hullUp","t":299.9,"p":4372.9},
{"seg":"hc","series":"hullDown","t":299.9,"p":4372.9},{"seg":"hc","series":"hullDown","t":304.2,"p":4372.9},{"seg":"hc","series":"hullDown","t":308,"p":4372.8},{"seg":"hc","series":"hullDown","t":312,"p":4372.8},
{"seg":"hd","series":"hullUp","t":312,"p":4372.8},{"seg":"hd","series":"hullUp","t":322.9,"p":4373.1},{"seg":"hd","series":"hullUp","t":329.1,"p":4373.6},{"seg":"hd","series":"hullUp","t":335.3,"p":4374.2},{"seg":"hd","series":"hullUp","t":339.9,"p":4374.5},
{"seg":"he","series":"hullSlow","t":339.9,"p":4374.5},{"seg":"he","series":"hullSlow","t":343.9,"p":4374.6},
{"seg":"hf","series":"hullDown","t":343.9,"p":4374.6},{"seg":"hf","series":"hullDown","t":351.7,"p":4374.2},{"seg":"hf","series":"hullDown","t":358.9,"p":4374.0},{"seg":"hf","series":"hullDown","t":363.8,"p":4373.9},
{"seg":"hg","series":"hullTurn","t":363.8,"p":4373.9},{"seg":"hg","series":"hullTurn","t":367.9,"p":4373.8},
{"seg":"hh","series":"hullUp","t":367.9,"p":4373.8},{"seg":"hh","series":"hullUp","t":375.6,"p":4374.1},{"seg":"hh","series":"hullUp","t":383.7,"p":4374.9},{"seg":"hh","series":"hullUp","t":392.1,"p":4376.0},{"seg":"hh","series":"hullUp","t":403.8,"p":4377.4},
{"seg":"hi","series":"hullSlow","t":403.8,"p":4377.4},{"seg":"hi","series":"hullSlow","t":424,"p":4379.2},
{"seg":"hj","series":"hullUp","t":424,"p":4379.2},{"seg":"hj","series":"hullUp","t":435.8,"p":4381.0},{"seg":"hj","series":"hullUp","t":442.9,"p":4382.7},{"seg":"hj","series":"hullUp","t":452.9,"p":4385.3},{"seg":"hj","series":"hullUp","t":468.1,"p":4389.8},
{"seg":"hk","series":"hullSlow","t":468.1,"p":4389.8},{"seg":"hk","series":"hullSlow","t":476.2,"p":4392.2},
{"seg":"hl","series":"hullUp","t":476.2,"p":4392.2},{"seg":"hl","series":"hullUp","t":479.9,"p":4393.7},{"seg":"hl","series":"hullUp","t":489.2,"p":4397.9},{"seg":"hl","series":"hullUp","t":500,"p":4403.7},
{"seg":"hm","series":"hullSlow","t":500,"p":4403.7},{"seg":"hm","series":"hullSlow","t":505.9,"p":4406.5},{"seg":"hm","series":"hullSlow","t":512.1,"p":4408.8},{"seg":"hm","series":"hullSlow","t":518.4,"p":4410.4},{"seg":"hm","series":"hullSlow","t":524.6,"p":4411.4},{"seg":"hm","series":"hullSlow","t":530.8,"p":4412.2},{"seg":"hm","series":"hullSlow","t":535.7,"p":4412.4},
{"seg":"hn","series":"hullDown","t":535.7,"p":4412.4},{"seg":"hn","series":"hullDown","t":541.9,"p":4412.2},{"seg":"hn","series":"hullDown","t":548.2,"p":4411.6},{"seg":"hn","series":"hullDown","t":554.4,"p":4410.4},{"seg":"hn","series":"hullDown","t":559.6,"p":4408.6},{"seg":"hn","series":"hullDown","t":567.4,"p":4405.2},{"seg":"hn","series":"hullDown","t":572.7,"p":4402.8},{"seg":"hn","series":"hullDown","t":580.4,"p":4397.9},{"seg":"hn","series":"hullDown","t":584.5,"p":4394.7},{"seg":"hn","series":"hullDown","t":591.6,"p":4388.8},{"seg":"hn","series":"hullDown","t":600,"p":4381.9},{"seg":"hn","series":"hullDown","t":603.1,"p":4378.8},{"seg":"hn","series":"hullDown","t":612.4,"p":4371.0},{"seg":"hn","series":"hullDown","t":616.1,"p":4367.0},
{"seg":"ho","series":"hullTurn","t":616.1,"p":4367.0},{"seg":"ho","series":"hullTurn","t":618,"p":4365.2}
],
"signals":[
{"t":287.8,"p":4372.7,"kind":"arrow"},{"t":308,"p":4372.7,"kind":"arrow"},{"t":367.9,"p":4373.6,"kind":"arrow"},
{"t":299.9,"p":4372.9,"kind":"pivot"},{"t":343.9,"p":4374.6,"kind":"pivot"},{"t":535.7,"p":4412.4,"kind":"pivot"},
{"t":276,"p":4373,"kind":"dot"},{"t":304.2,"p":4372.9,"kind":"dot"},{"t":312,"p":4372.8,"kind":"dot"},{"t":339.9,"p":4374.5,"kind":"dot"},{"t":363.8,"p":4373.9,"kind":"dot"},{"t":403.8,"p":4377.4,"kind":"dot"},{"t":424,"p":4379.2,"kind":"dot"},{"t":468.1,"p":4389.8,"kind":"dot"},{"t":476.2,"p":4392.2,"kind":"dot"},{"t":500,"p":4403.7,"kind":"dot"},{"t":616.1,"p":4367,"kind":"dot"},
{"t":544.1,"p":4418.5,"kind":"trailStart"},{"t":343.9,"p":4380.6,"kind":"trailStart"},{"t":328.1,"p":4369.7,"kind":"stopStart"},{"t":379.6,"p":4371.4,"kind":"stopStart"}
],
"ink":[
{"id":"3","n":1,"t":353.6,"p":4393.2},{"id":"3","n":2,"t":354.2,"p":4393.9},{"id":"3","n":3,"t":357.9,"p":4394.4},{"id":"3","n":4,"t":361.6,"p":4394.6},{"id":"3","n":5,"t":362.3,"p":4393.7},{"id":"3","n":6,"t":361.6,"p":4392.3},{"id":"3","n":7,"t":357,"p":4391.2},{"id":"3","n":8,"t":362.6,"p":4391.7},{"id":"3","n":9,"t":363.2,"p":4390.6},{"id":"3","n":10,"t":360.1,"p":4389.3},{"id":"3","n":11,"t":355.1,"p":4388.4},
{"id":"a3a","n":1,"t":364.4,"p":4390.3},{"id":"a3a","n":2,"t":364.7,"p":4389.3},{"id":"a3a","n":3,"t":367.2,"p":4386.7},{"id":"a3a","n":4,"t":370.3,"p":4384.3},{"id":"a3a","n":5,"t":371.3,"p":4383.8},
{"id":"a3b","n":1,"t":376.5,"p":4386.1},{"id":"a3b","n":2,"t":374.4,"p":4385},{"id":"a3b","n":3,"t":371.9,"p":4383.8},
{"id":"a3c","n":1,"t":368.2,"p":4383.9},{"id":"a3c","n":2,"t":371.9,"p":4383.7},
{"id":"box3","n":1,"t":380.6,"p":4382.5},{"id":"box3","n":2,"t":377.5,"p":4382.8},{"id":"box3","n":3,"t":372.5,"p":4383},{"id":"box3","n":4,"t":369.1,"p":4382.9},{"id":"box3","n":5,"t":368.2,"p":4381.9},{"id":"box3","n":6,"t":368.2,"p":4379.1},{"id":"box3","n":7,"t":372.5,"p":4377.8},{"id":"box3","n":8,"t":377.5,"p":4377.3},{"id":"box3","n":9,"t":381.2,"p":4377.5},{"id":"box3","n":10,"t":381.8,"p":4379.4},{"id":"box3","n":11,"t":381.5,"p":4381.2},{"id":"box3","n":12,"t":379.3,"p":4382.1},
{"id":"circle","n":1,"t":365.7,"p":4376.3},{"id":"circle","n":2,"t":361,"p":4375.9},{"id":"circle","n":3,"t":358.5,"p":4374.6},{"id":"circle","n":4,"t":359.5,"p":4372.8},{"id":"circle","n":5,"t":363.2,"p":4371.8},{"id":"circle","n":6,"t":371.3,"p":4371.7},{"id":"circle","n":7,"t":374.1,"p":4372.5},{"id":"circle","n":8,"t":375.3,"p":4374.6},{"id":"circle","n":9,"t":372.5,"p":4375.4},{"id":"circle","n":10,"t":365.7,"p":4376.3},
{"id":"tail","n":1,"t":374.1,"p":4373.2},{"id":"tail","n":2,"t":383.7,"p":4373.1},{"id":"tail","n":3,"t":391.1,"p":4372.6},{"id":"tail","n":4,"t":396.1,"p":4372},{"id":"tail","n":5,"t":402.3,"p":4371},
{"id":"one","n":1,"t":409.7,"p":4373.1},{"id":"one","n":2,"t":408.5,"p":4371.5},{"id":"one","n":3,"t":405.7,"p":4369.4},
{"id":"4a","n":1,"t":419.1,"p":4412.3},{"id":"4a","n":2,"t":418.1,"p":4410.6},{"id":"4a","n":3,"t":427.7,"p":4410.5},
{"id":"4b","n":1,"t":426.5,"p":4412.9},{"id":"4b","n":2,"t":425.3,"p":4411.8},{"id":"4b","n":3,"t":425.3,"p":4408.1},
{"id":"xa","n":1,"t":430.2,"p":4410.7},{"id":"xa","n":2,"t":438.6,"p":4409},{"id":"xa","n":3,"t":444.2,"p":4406.6},
{"id":"xb","n":1,"t":430.5,"p":4407.1},{"id":"xb","n":2,"t":435.5,"p":4409.4},{"id":"xb","n":3,"t":442.6,"p":4410.4},
{"id":"a4","n":1,"t":437.7,"p":4410.8},{"id":"a4","n":2,"t":442.6,"p":4410.6},{"id":"a4","n":3,"t":451,"p":4409.5},{"id":"a4","n":4,"t":456.3,"p":4408.8},{"id":"a4","n":5,"t":461.3,"p":4407.6},{"id":"a4","n":6,"t":465.6,"p":4406.4},{"id":"a4","n":7,"t":470.9,"p":4405.4},
{"id":"a4b","n":1,"t":470.6,"p":4408.2},{"id":"a4b","n":2,"t":470.6,"p":4405.4},{"id":"a4b","n":3,"t":462.8,"p":4405.4},
{"id":"low","n":1,"t":369.4,"p":4364.5},{"id":"low","n":2,"t":369.7,"p":4366.2},{"id":"low","n":3,"t":373.4,"p":4367},{"id":"low","n":4,"t":380.6,"p":4367},{"id":"low","n":5,"t":382.8,"p":4365.8},{"id":"low","n":6,"t":383.4,"p":4362.1},{"id":"low","n":7,"t":382.1,"p":4359.6},{"id":"low","n":8,"t":378.7,"p":4358.6},{"id":"low","n":9,"t":371.3,"p":4359},{"id":"low","n":10,"t":368.8,"p":4359.8},{"id":"low","n":11,"t":369.4,"p":4364.5},
{"id":"dash","n":1,"t":382.4,"p":4363.8},{"id":"dash","n":2,"t":405.4,"p":4363.7},
{"id":"2","n":1,"t":408.2,"p":4367.1},{"id":"2","n":2,"t":413.8,"p":4367.3},{"id":"2","n":3,"t":417.5,"p":4366.5},{"id":"2","n":4,"t":419.4,"p":4363.9},{"id":"2","n":5,"t":415.3,"p":4362.4},{"id":"2","n":6,"t":409.7,"p":4361},{"id":"2","n":7,"t":408.2,"p":4361.9},{"id":"2","n":8,"t":413.8,"p":4362.6},{"id":"2","n":9,"t":423.1,"p":4362.4},{"id":"2","n":10,"t":431.2,"p":4361.2}
],
"chrome":[
{"t":271.03,"t2":691.2,"p":4425.1,"p2":4424.17,"part":"frame"},{"t":271.03,"t2":691.2,"p":4424.17,"p2":4422.4,"part":"bar"},{"t":273.2,"t2":302.06,"p":4424.07,"p2":4422.6,"part":"input"},{"t":297.41,"t2":301.4,"p":4423.97,"p2":4422.7,"part":"drop"},{"t":303.61,"t2":305.17,"p":4423.97,"p2":4423.03,"part":"flag"},{"t":271.03,"t2":273.3,"p":4422.4,"p2":4354.03,"part":"edge"},
{"t":273.51,"t2":675.07,"p":4365.2,"p2":4364.68,"part":"rail"},{"t":273.51,"t2":675.07,"p":4357.37,"p2":4357.16,"part":"rail"},{"t":675,"t2":675.3,"p":4422.3,"p2":4357.2,"part":"rail"},
{"t":273.51,"t2":691.2,"p":4355.5,"p2":4354.03,"part":"foot"},{"t":293.7,"t2":302.1,"p":4355.5,"p2":4354.03,"part":"btn"},{"t":317.3,"t2":320.1,"p":4355.3,"p2":4354.45,"part":"btn"},{"t":675.3,"t2":691.2,"p":4365.2,"p2":4363.42,"part":"cover"},
{"t":274.13,"t2":290.58,"p":4422.09,"p2":4420.31,"part":"sell"},{"t":291.2,"t2":316.34,"p":4422.09,"p2":4420.31,"part":"neutral"},{"t":317.27,"t2":348.61,"p":4422.09,"p2":4420.31,"part":"sell"},{"t":675.7,"t2":681.3,"p":4360.6,"p2":4359.25,"part":"tag"}
],
"labels":[
{"t":275.4,"p":4423.39,"text":"/ES","role":"ticker"},{"t":309.5,"p":4423.39,"text":"E-mini S&P 500 Index Futures,ETH (JUN 22)","role":"title"},{"t":375.6,"p":4423.39,"text":"4483.50","role":"price"},{"t":397.6,"p":4423.86,"text":"-12.75","role":"change"},{"t":397.6,"p":4422.97,"text":"-0.28%","role":"change"},{"t":405.1,"p":4423.86,"text":"B: 4483.25","role":"quote"},{"t":405.1,"p":4422.97,"text":"A: 4484.75","role":"quote"},
{"t":559.3,"p":4423.39,"text":"Share","role":"tool"},{"t":599.3,"p":4423.39,"text":"4m","role":"small"},{"t":613.3,"p":4423.39,"text":"Style","role":"tool"},{"t":630.1,"p":4423.39,"text":"Drawings","role":"tool"},{"t":653.3,"p":4423.39,"text":"Studies","role":"tool"},{"t":673.8,"p":4423.39,"text":"Patterns","role":"tool"},
{"t":556.2,"p":4423.39,"text":"↗","role":"icon"},{"t":574.2,"p":4423.39,"text":"▣","role":"icon"},{"t":582.9,"p":4423.39,"text":"⚗","role":"icon"},{"t":591.6,"p":4423.39,"text":"⚙","role":"icon"},{"t":609.9,"p":4423.39,"text":"◆","role":"icon"},{"t":626.96,"p":4423.39,"text":"➤","role":"icon"},{"t":650.2,"p":4423.39,"text":"⚗","role":"icon"},{"t":670.7,"p":4423.39,"text":"≋","role":"icon"},{"t":299.4,"p":4423.39,"text":"▾","role":"icon"},
{"t":678.2,"p":4421.77,"text":"⇄","role":"icon"},{"t":297.9,"p":4354.75,"text":"⧗","role":"icon"},
{"t":636.6,"p":4354.87,"text":"◂▸","role":"hintIcon"},{"t":641.2,"p":4354.87,"text":"⊕","role":"hintIcon"},{"t":645.9,"p":4354.87,"text":"⊕","role":"hintIcon"},{"t":650.2,"p":4354.87,"text":"⊖","role":"hintIcon"},{"t":654.9,"p":4354.87,"text":"➤","role":"hintIcon"},
{"t":282.4,"p":4421.2,"text":"HULL:SELL","role":"chip"},{"t":303.8,"p":4421.2,"text":"DYNO:NEUTRAL","role":"chip"},{"t":332.9,"p":4421.2,"text":"Stage: Deceleration","role":"chip"},{"t":678.5,"p":4359.93,"text":"19","role":"tag"},{"t":659.9,"p":4354.87,"text":"Drawing set: Default","role":"hint"}
]
},
"encoding":{"x":{"field":"t","type":"quantitative","scale":{"domain":[273.51,675.07],"nice":false,"zero":false,"padding":0},"axis":null}},
"layer":[
{"data":{"name":"cloud"},"mark":{"type":"area"},"encoding":{"y":{"field":"upper","type":"quantitative","scale":{"domain":[4365.2,4422.3],"nice":false,"zero":false},"axis":null},"y2":{"field":"lower"},"fill":{"field":"phase","type":"nominal","scale":{"domain":["bull","bear"],"range":["#032703","#2a0000"]},"legend":null},"detail":{"field":"seg"}}},
{"data":{"name":"volume"},"mark":{"type":"bar","orient":"vertical","size":12.9,"color":"#ffffff","opacity":0.075},"encoding":{"y":{"field":"v","type":"quantitative","scale":{"domain":[0,54700],"nice":false,"zero":false},"axis":null}}},
{"data":{"name":"blocks"},"mark":{"type":"bar","orient":"vertical","size":13.3},"encoding":{"y":{"field":"lvl","type":"quantitative","scale":{"domain":[64.3,540],"nice":false,"zero":false},"axis":null},"y2":{"datum":0},"fill":{"field":"state","type":"nominal","scale":{"domain":["bull","bear","fadeUp","fadeDown"],"range":["#00b3b3","#b000b0","#0a4000","#5c0000"]},"legend":null}}},
{"layer":[
{"data":{"name":"osc"},"mark":{"type":"bar","orient":"vertical","size":7},"encoding":{"x":{"field":"t","type":"quantitative","scale":{"domain":[273.51,675.07],"nice":false,"zero":false,"padding":0},"axis":{"orient":"bottom","values":[280,300,320,340,360,380,400,420,440,460,480,500,520,540,560,580,600,620,640,660],"labelExpr":"floor(datum.value/60)+':'+(datum.value%60<10?'0':'')+(datum.value%60)","offset":76,"tickSize":0,"domain":false,"labelColor":"#8f8f8f","labelFontSize":10.5,"labelPadding":2,"labelOffset":4,"title":null,"grid":false,"labelOverlap":false,"labelFlush":false}},"y":{"field":"split","type":"quantitative","scale":{"domain":[64.3,540],"nice":false,"zero":false},"axis":{"orient":"right","values":[0,40,60],"title":null,"tickSize":0,"domain":false,"labelColor":"#a8a8a8","labelFontSize":10.5,"labelPadding":2,"zindex":1,"labelOverlap":false,"labelFlush":false}},"y2":{"datum":26.1},"fill":{"field":"trend","type":"nominal","scale":{"domain":["up","down"],"range":["#00ff00","#ff0000"]},"legend":null}}},
{"data":{"name":"osc"},"mark":{"type":"bar","orient":"vertical","size":7},"encoding":{"y":{"field":"split","type":"quantitative"},"y2":{"datum":59.1},"color":{"field":"trend","type":"nominal","scale":{"domain":["up","down"],"range":["#006400","#8b0000"]},"legend":null}}},
{"data":{"name":"tips"},"mark":{"type":"bar","orient":"vertical","size":7,"color":"#00ff00"},"encoding":{"y":{"field":"a","type":"quantitative"},"y2":{"field":"b"}}}
]},
{"data":{"name":"breaks"},"mark":{"type":"rule","color":"#000000","strokeWidth":1.2,"opacity":0.8},"encoding":{"y":{"datum":4422.3,"type":"quantitative","scale":{"domain":[4365.2,4422.3],"nice":false,"zero":false},"axis":null},"y2":{"datum":4357.6}}},
{"data":{"name":"candles"},"layer":[
{"mark":{"type":"rule","strokeWidth":1.4,"clip":true},"encoding":{"y":{"field":"hi","type":"quantitative","scale":{"domain":[4365.2,4422.3],"nice":false,"zero":false},"axis":{"orient":"right","values":[4365,4370,4375,4380,4385,4390,4395,4400,4405,4410,4415,4420],"format":"d","title":null,"tickSize":0,"domain":false,"labelColor":"#a6a6a6","labelFontSize":10.5,"labelPadding":2,"labelOverlap":false,"labelFlush":false}},"y2":{"field":"top"},"stroke":{"field":"tone","type":"nominal","scale":{"domain":["up","down","fade","pale","olive"],"range":["#00a800","#b00000","#c89a00","#d0b400","#8d9a00"]},"legend":null}}},
{"mark":{"type":"rule","strokeWidth":1.4,"clip":true},"encoding":{"y":{"field":"lo","type":"quantitative"},"y2":{"field":"bot"},"stroke":{"field":"tone","type":"nominal","legend":null}}},
{"transform":[{"filter":"datum.body==='filled'"}],"mark":{"type":"bar","orient":"vertical","size":8,"clip":true},"encoding":{"y":{"field":"top","type":"quantitative"},"y2":{"field":"bot"},"fill":{"field":"tone","type":"nominal","scale":{"domain":["up","down","fade","pale","olive"],"range":["#00ff00","#ff0000","#dcaa08","#ffff00","#b8d000"]},"legend":null}}},
{"transform":[{"filter":"datum.body==='hollow'"}],"mark":{"type":"bar","orient":"vertical","size":7,"fill":"transparent","strokeWidth":1.2,"clip":true},"encoding":{"y":{"field":"top","type":"quantitative"},"y2":{"field":"bot"},"stroke":{"field":"tone","type":"nominal","legend":null}}}
]},
{"data":{"name":"levels"},"mark":{"type":"rule"},"encoding":{"x2":{"field":"t2"},"y":{"field":"p","type":"quantitative","scale":{"domain":[4365.2,4422.3],"nice":false,"zero":false},"axis":null},"stroke":{"field":"style","type":"nominal","scale":{"domain":["gray","white","teal","gold","purple","lime","red","maroon","forest","ember","magenta","sage"],"range":["#9a9a9a","#c8c8c8","#0a9090","#b0a000","#8a0a8a","#00ff00","#ff0000","#8b0000","#0a6400","#d03008","#ff00ff","#8fc88f"]},"legend":null},"strokeWidth":{"field":"style","type":"nominal","scale":{"type":"ordinal","domain":["gray","white","teal","gold","purple","lime","red","maroon","forest","ember","magenta","sage"],"range":[1.4,1.4,1.4,1.4,1.4,3,3,3,3,2.5,3,2.5]},"legend":null},"strokeDash":{"field":"style","type":"nominal","scale":{"domain":["gray","white","teal","gold","purple","lime","red","maroon","forest","ember","magenta","sage"],"range":[[8,5],[8,5],[8,5],[8,5],[8,5],[1,0],[1,0],[1,0],[1,0],[1,0],[1,0],[1,0]]},"legend":null}}},
{"data":{"name":"lines"},"mark":{"type":"line","clip":true},"encoding":{"y":{"field":"p","type":"quantitative","scale":{"domain":[4365.2,4422.3],"nice":false,"zero":false},"axis":null},"detail":{"field":"seg"},"stroke":{"field":"series","type":"nominal","scale":{"domain":["average","cloudBlue","cloudGold","longBlue","trail","stop","hullUp","hullDown","hullSlow","hullTurn"],"range":["#e8e8e8","#0d5cab","#e0b000","#2f8fe0","#ff00ff","#00ffff","#00ee00","#ff0000","#ff7a00","#0a7a00"]},"legend":null},"strokeWidth":{"field":"series","type":"nominal","scale":{"type":"ordinal","domain":["average","cloudBlue","cloudGold","longBlue","trail","stop","hullUp","hullDown","hullSlow","hullTurn"],"range":[2.5,1.6,2,2,3,3,3,3,3,3]},"legend":null}}},
{"data":{"name":"signals"},"mark":{"type":"point","filled":true,"opacity":1},"encoding":{"y":{"field":"p","type":"quantitative","scale":{"domain":[4365.2,4422.3],"nice":false,"zero":false},"axis":null},"shape":{"field":"kind","type":"nominal","scale":{"domain":["arrow","pivot","dot","trailStart","stopStart"],"range":["triangle-up","square","circle","circle","circle"]},"legend":null},"size":{"field":"kind","type":"nominal","scale":{"type":"ordinal","domain":["arrow","pivot","dot","trailStart","stopStart"],"range":[70,50,18,36,36]},"legend":null},"fill":{"field":"kind","type":"nominal","scale":{"domain":["arrow","pivot","dot","trailStart","stopStart"],"range":["#ffffff","#ffffff","#ffffff","#ff00ff","#00ffff"]},"legend":null}}},
{"layer":[
{"data":{"name":"chrome"},"mark":{"type":"rect"},"encoding":{"x2":{"field":"t2"},"y":{"field":"p","type":"quantitative","scale":{"domain":[4365.2,4422.3],"nice":false,"zero":false},"axis":null},"y2":{"field":"p2"},"fill":{"field":"part","type":"nominal","scale":{"domain":["frame","bar","input","drop","flag","edge","rail","foot","btn","cover","sell","neutral","tag"],"range":["#2b2b2b","#0645a8","#161616","#555555","#6e1216","#0f1a28","#303030","#0e0e0e","#333333","#000000","#ff0000","#ffff00","#a01818"]},"legend":null}}},
{"data":{"name":"labels"},"encoding":{"y":{"field":"p","type":"quantitative"},"text":{"field":"text"}},"layer":[
{"transform":[{"filter":"datum.role==='ticker'"}],"mark":{"type":"text","align":"left","baseline":"middle","color":"#ffffff","fontSize":12}},
{"transform":[{"filter":"datum.role==='title'"}],"mark":{"type":"text","align":"left","baseline":"middle","color":"#7fa3e0","fontSize":10}},
{"transform":[{"filter":"datum.role==='price'"}],"mark":{"type":"text","align":"left","baseline":"middle","color":"#ffffff","fontSize":12.5,"fontWeight":"bold"}},
{"transform":[{"filter":"datum.role==='change'"}],"mark":{"type":"text","align":"center","baseline":"middle","color":"#e05050","fontSize":9}},
{"transform":[{"filter":"datum.role==='quote'"}],"mark":{"type":"text","align":"left","baseline":"middle","color":"#b9c6de","fontSize":9}},
{"transform":[{"filter":"datum.role==='tool'"}],"mark":{"type":"text","align":"left","baseline":"middle","color":"#cfdcf5","fontSize":10}},
{"transform":[{"filter":"datum.role==='small'"}],"mark":{"type":"text","align":"left","baseline":"middle","color":"#cfdcf5","fontSize":8,"fontWeight":"bold"}},
{"transform":[{"filter":"datum.role==='icon'"}],"mark":{"type":"text","align":"center","baseline":"middle","color":"#e8eefa","fontSize":11,"font":"DejaVu Sans"}},
{"transform":[{"filter":"datum.role==='hintIcon'"}],"mark":{"type":"text","align":"center","baseline":"middle","color":"#b0b0b0","fontSize":12,"font":"DejaVu Sans"}},
{"transform":[{"filter":"datum.role==='chip'"}],"mark":{"type":"text","align":"center","baseline":"middle","color":"#000000","fontSize":9.6,"fontWeight":"bold"}},
{"transform":[{"filter":"datum.role==='tag'"}],"mark":{"type":"text","align":"center","baseline":"middle","color":"#ffffff","fontSize":10,"fontWeight":"bold"}},
{"transform":[{"filter":"datum.role==='hint'"}],"mark":{"type":"text","align":"left","baseline":"middle","color":"#b0b0b0","fontSize":10}}
]}
]},
{"data":{"name":"ink"},"mark":{"type":"line","interpolate":"catmull-rom","color":"#f5b800","strokeWidth":2.6,"strokeCap":"round"},"encoding":{"y":{"field":"p","type":"quantitative","scale":{"domain":[4365.2,4422.3],"nice":false,"zero":false},"axis":null},"detail":{"field":"id"},"order":{"field":"n"}}}
],
"resolve":{"scale":{"y":"independent","fill":"independent","stroke":"independent","color":"independent","strokeWidth":"independent","strokeDash":"independent","shape":"independent","size":"independent"}}
}
